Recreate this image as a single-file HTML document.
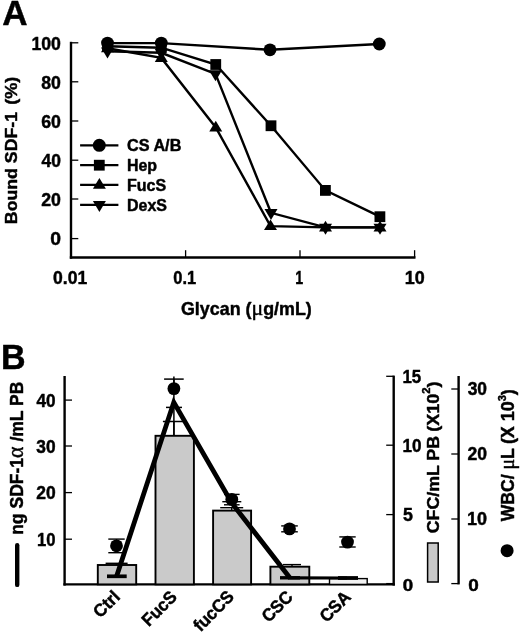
<!DOCTYPE html>
<html><head><meta charset="utf-8"><title>Figure</title>
<style>
html,body{margin:0;padding:0;background:#fff;}
svg{display:block;filter:blur(0.4px);}
text{font-family:"Liberation Sans",sans-serif;font-weight:bold;fill:#000;stroke:#000;stroke-width:0.45px;stroke-linejoin:round;}
</style></head><body>
<svg width="520" height="635" viewBox="0 0 520 635">
<rect width="520" height="635" fill="#fff"/>
<text transform="translate(2.22,25.00) scale(1.021,1)" font-size="34.35" >A</text>
<line x1="71" y1="41.8" x2="71" y2="258.7" stroke="#000" stroke-width="2.4" />
<line x1="69.8" y1="257.5" x2="415.5" y2="257.5" stroke="#000" stroke-width="2.4" />
<line x1="71.5" y1="42.8" x2="78.3" y2="42.8" stroke="#000" stroke-width="1.3" />
<line x1="71.5" y1="81.8" x2="78.3" y2="81.8" stroke="#000" stroke-width="1.3" />
<line x1="71.5" y1="121" x2="78.3" y2="121" stroke="#000" stroke-width="1.3" />
<line x1="71.5" y1="160.2" x2="78.3" y2="160.2" stroke="#000" stroke-width="1.3" />
<line x1="71.5" y1="199" x2="78.3" y2="199" stroke="#000" stroke-width="1.3" />
<line x1="71.5" y1="238.6" x2="78.3" y2="238.6" stroke="#000" stroke-width="1.3" />
<line x1="185.6" y1="250.2" x2="185.6" y2="257.5" stroke="#000" stroke-width="1.3" />
<line x1="300" y1="250.2" x2="300" y2="257.5" stroke="#000" stroke-width="1.3" />
<line x1="414.6" y1="250.2" x2="414.6" y2="257.5" stroke="#000" stroke-width="1.3" />
<text transform="translate(31.44,49.50) scale(0.968,1)" font-size="18.29" >100</text>
<text transform="translate(41.27,88.50) scale(0.968,1)" font-size="18.29" >80</text>
<text transform="translate(41.18,127.70) scale(0.972,1)" font-size="18.29" >60</text>
<text transform="translate(41.54,166.90) scale(0.954,1)" font-size="18.29" >40</text>
<text transform="translate(41.18,205.70) scale(0.972,1)" font-size="18.29" >20</text>
<text transform="translate(50.23,245.30) scale(1.059,1)" font-size="18.29" >0</text>
<text transform="translate(53.10,284.20) scale(0.960,1)" font-size="18.29" >0.01</text>
<text transform="translate(173.24,284.20) scale(0.900,1)" font-size="18.29" >0.1</text>
<text transform="translate(295.34,284.20) scale(0.768,1)" font-size="18.55" >1</text>
<text transform="translate(404.72,284.20) scale(0.980,1)" font-size="18.29" >10</text>
<text transform="translate(17.10,224.15) rotate(-90) scale(1.060,1)" font-size="16.72" >Bound SDF-1</text>
<text transform="translate(17.10,104.80) rotate(-90) scale(1.081,1)" font-size="16.72" >(%)</text>
<text transform="translate(180.98,315.20) scale(1.000,1)" font-size="17.88" >Glycan (<tspan font-family="Liberation Serif,serif" font-weight="normal" font-size="122%">μ</tspan>g/mL)</text>
<polyline fill="none" stroke="#000" stroke-width="2.4" points="107.50,43.10 161.30,43.10 270.00,49.80 379.30,44.00"/>
<polyline fill="none" stroke="#000" stroke-width="2.4" points="107.50,46.20 161.30,47.70 215.75,64.50 271.00,125.75 325.40,190.40 379.90,216.70"/>
<polyline fill="none" stroke="#000" stroke-width="2.4" points="107.50,48.30 161.30,57.90 215.75,127.40 270.50,226.10 325.50,227.40 380.00,227.40"/>
<polyline fill="none" stroke="#000" stroke-width="2.4" points="107.50,51.30 161.30,52.80 215.50,73.90 271.00,212.80 325.50,227.40 380.00,227.40"/>
<circle cx="107.5" cy="43.1" r="6.4"/>
<circle cx="161.3" cy="43.1" r="6.4"/>
<circle cx="270" cy="49.8" r="6.4"/>
<circle cx="379.3" cy="44" r="6.4"/>
<rect x="102.10" y="40.80" width="10.8" height="10.8"/>
<rect x="155.90" y="42.30" width="10.8" height="10.8"/>
<rect x="210.35" y="59.10" width="10.8" height="10.8"/>
<rect x="265.60" y="120.35" width="10.8" height="10.8"/>
<rect x="320.00" y="185.00" width="10.8" height="10.8"/>
<rect x="374.50" y="211.30" width="10.8" height="10.8"/>
<polygon points="107.50,41.60 114.00,52.30 101.00,52.30"/>
<polygon points="161.30,51.20 167.80,61.90 154.80,61.90"/>
<polygon points="215.75,120.70 222.25,131.40 209.25,131.40"/>
<polygon points="270.50,219.40 277.00,230.10 264.00,230.10"/>
<polygon points="325.50,220.70 332.00,231.40 319.00,231.40"/>
<polygon points="380.00,220.70 386.50,231.40 373.50,231.40"/>
<polygon points="107.50,58.60 114.00,47.60 101.00,47.60"/>
<polygon points="161.30,60.10 167.80,49.10 154.80,49.10"/>
<polygon points="215.50,81.20 222.00,70.20 209.00,70.20"/>
<polygon points="271.00,220.10 277.50,209.10 264.50,209.10"/>
<polygon points="325.50,234.70 332.00,223.70 319.00,223.70"/>
<polygon points="380.00,234.70 386.50,223.70 373.50,223.70"/>
<line x1="80.1" y1="145.3" x2="118.4" y2="145.3" stroke="#000" stroke-width="2.3" />
<line x1="80.1" y1="165.2" x2="118.4" y2="165.2" stroke="#000" stroke-width="2.3" />
<line x1="80.1" y1="184.8" x2="118.4" y2="184.8" stroke="#000" stroke-width="2.3" />
<line x1="80.1" y1="204.8" x2="118.4" y2="204.8" stroke="#000" stroke-width="2.3" />
<circle cx="99.3" cy="145.3" r="6.5"/>
<rect x="93.90" y="159.80" width="10.8" height="10.8"/>
<polygon points="99.40,178.10 105.90,188.80 92.90,188.80"/>
<polygon points="99.40,212.10 105.90,201.10 92.90,201.10"/>
<text transform="translate(126.95,150.70) scale(1.015,1)" font-size="15.99" >CS A/B</text>
<text transform="translate(126.96,170.90) scale(1.008,1)" font-size="15.84" >Hep</text>
<text transform="translate(126.96,190.60) scale(1.003,1)" font-size="15.99" >FucS</text>
<text transform="translate(126.96,210.50) scale(1.001,1)" font-size="15.99" >DexS</text>
<text transform="translate(0.98,369.30) scale(0.997,1)" font-size="34.20" >B</text>
<line x1="64.6" y1="376.0" x2="64.6" y2="585.6" stroke="#000" stroke-width="2.4" />
<line x1="63.39999999999999" y1="584.4" x2="394.9" y2="584.4" stroke="#000" stroke-width="2.4" />
<line x1="393.7" y1="375.6" x2="393.7" y2="585.6" stroke="#000" stroke-width="2.4" />
<line x1="458.6" y1="376.0" x2="458.6" y2="584.4" stroke="#000" stroke-width="2.4" />
<line x1="64.6" y1="400.1" x2="72" y2="400.1" stroke="#000" stroke-width="1.3" />
<text transform="translate(36.54,406.80) scale(0.976,1)" font-size="17.57" >40</text>
<line x1="64.6" y1="446" x2="72" y2="446" stroke="#000" stroke-width="1.3" />
<text transform="translate(36.37,452.70) scale(0.986,1)" font-size="17.57" >30</text>
<line x1="64.6" y1="492.6" x2="72" y2="492.6" stroke="#000" stroke-width="1.3" />
<text transform="translate(36.19,499.30) scale(0.995,1)" font-size="17.57" >20</text>
<line x1="64.6" y1="539.2" x2="72" y2="539.2" stroke="#000" stroke-width="1.3" />
<text transform="translate(37.10,545.90) scale(0.947,1)" font-size="17.57" >10</text>
<line x1="386.2" y1="376.3" x2="393.7" y2="376.3" stroke="#000" stroke-width="1.3" />
<text transform="translate(402.49,382.60) scale(0.932,1)" font-size="18.12" >15</text>
<line x1="386.2" y1="445.2" x2="393.7" y2="445.2" stroke="#000" stroke-width="1.3" />
<text transform="translate(402.47,452.40) scale(0.959,1)" font-size="17.86" >10</text>
<line x1="386.2" y1="514.6" x2="393.7" y2="514.6" stroke="#000" stroke-width="1.3" />
<text transform="translate(403.07,521.20) scale(1.007,1)" font-size="17.68" >5</text>
<line x1="386.2" y1="583.6" x2="393.7" y2="583.6" stroke="#000" stroke-width="1.3" />
<text transform="translate(402.85,591.20) scale(1.121,1)" font-size="16.71" >0</text>
<line x1="451.3" y1="389" x2="458.6" y2="389" stroke="#000" stroke-width="1.3" />
<text transform="translate(467.66,395.40) scale(0.975,1)" font-size="17.86" >30</text>
<line x1="451.3" y1="454" x2="458.6" y2="454" stroke="#000" stroke-width="1.3" />
<text transform="translate(467.48,460.40) scale(0.985,1)" font-size="17.86" >20</text>
<line x1="451.3" y1="519" x2="458.6" y2="519" stroke="#000" stroke-width="1.3" />
<text transform="translate(467.02,525.40) scale(1.009,1)" font-size="17.86" >10</text>
<line x1="451.3" y1="583.6" x2="458.6" y2="583.6" stroke="#000" stroke-width="1.3" />
<text transform="translate(468.24,590.80) scale(1.087,1)" font-size="17.43" >0</text>
<rect x="97.8" y="565" width="38.40" height="19.40" fill="#cacaca" stroke="#000" stroke-width="1.9"/>
<rect x="155.5" y="435.8" width="38.40" height="148.60" fill="#cacaca" stroke="#000" stroke-width="1.9"/>
<rect x="213.1" y="510.6" width="38.00" height="73.80" fill="#cacaca" stroke="#000" stroke-width="1.9"/>
<rect x="270.4" y="566.7" width="38.90" height="17.70" fill="#cacaca" stroke="#000" stroke-width="1.9"/>
<rect x="329.5" y="578.6" width="37.70" height="5.80" fill="#f2f2f2" stroke="#000" stroke-width="1.4"/>
<line x1="116.6" y1="563.3" x2="116.6" y2="564.8" stroke="#000" stroke-width="1.4" />
<line x1="105.6" y1="563.3" x2="127.6" y2="563.3" stroke="#000" stroke-width="1.4" />
<line x1="173.9" y1="421.5" x2="173.9" y2="435.8" stroke="#000" stroke-width="1.5" />
<line x1="162.9" y1="421.5" x2="184.9" y2="421.5" stroke="#000" stroke-width="1.5" />
<line x1="231.7" y1="507.7" x2="231.7" y2="510.4" stroke="#000" stroke-width="1.4" />
<line x1="220.2" y1="507.7" x2="243.2" y2="507.7" stroke="#000" stroke-width="1.4" />
<line x1="292" y1="564.6" x2="292" y2="566.7" stroke="#000" stroke-width="1.4" />
<line x1="283" y1="564.6" x2="301" y2="564.6" stroke="#000" stroke-width="1.4" />
<line x1="288" y1="577.9" x2="347" y2="578" stroke="#000" stroke-width="3.1" />
<polyline fill="none" stroke="#000" stroke-width="4.8" stroke-linejoin="miter" points="116.6,576.3 173.8,402.3 231.8,503 290,578"/>
<line x1="107" y1="576.3" x2="126.7" y2="576.3" stroke="#000" stroke-width="3.7" />
<line x1="280" y1="577.8" x2="300" y2="577.8" stroke="#000" stroke-width="3.4" />
<line x1="338" y1="578" x2="358" y2="578" stroke="#000" stroke-width="3.8" />
<line x1="174" y1="400" x2="174" y2="407.4" stroke="#000" stroke-width="1.5" />
<line x1="166" y1="407.4" x2="182" y2="407.4" stroke="#000" stroke-width="1.5" />
<line x1="231.8" y1="501.7" x2="231.8" y2="503" stroke="#000" stroke-width="1.4" />
<line x1="222.3" y1="501.7" x2="241.3" y2="501.7" stroke="#000" stroke-width="1.4" />
<line x1="116.5" y1="539.1" x2="116.5" y2="552.7" stroke="#000" stroke-width="1.4" />
<line x1="108.3" y1="539.1" x2="124.7" y2="539.1" stroke="#000" stroke-width="1.4" />
<line x1="108.3" y1="552.7" x2="124.7" y2="552.7" stroke="#000" stroke-width="1.4" />
<circle cx="116.5" cy="545.8" r="6.4"/>
<line x1="173.9" y1="379.1" x2="173.9" y2="388.6" stroke="#000" stroke-width="1.5" />
<line x1="164.1" y1="379.1" x2="183.70000000000002" y2="379.1" stroke="#000" stroke-width="1.5" />
<circle cx="173.9" cy="388.6" r="6.4"/>
<line x1="231.8" y1="494.4" x2="231.8" y2="504.8" stroke="#000" stroke-width="1.4" />
<line x1="224.0" y1="494.4" x2="239.60000000000002" y2="494.4" stroke="#000" stroke-width="1.4" />
<line x1="224.0" y1="504.8" x2="239.60000000000002" y2="504.8" stroke="#000" stroke-width="1.4" />
<circle cx="231.8" cy="499.4" r="6.4"/>
<line x1="289.5" y1="525.9" x2="289.5" y2="531.8" stroke="#000" stroke-width="1.4" />
<line x1="281.2" y1="525.9" x2="297.8" y2="525.9" stroke="#000" stroke-width="1.4" />
<line x1="281.2" y1="531.8" x2="297.8" y2="531.8" stroke="#000" stroke-width="1.4" />
<circle cx="289.5" cy="528.9" r="6.4"/>
<line x1="347.5" y1="536.9" x2="347.5" y2="547" stroke="#000" stroke-width="1.4" />
<line x1="339.3" y1="536.9" x2="355.7" y2="536.9" stroke="#000" stroke-width="1.4" />
<line x1="339.3" y1="547" x2="355.7" y2="547" stroke="#000" stroke-width="1.4" />
<circle cx="347.5" cy="542.1" r="6.4"/>
<line x1="173.9" y1="376.4" x2="173.9" y2="436" stroke="#000" stroke-width="1.5" />
<line x1="17.2" y1="545.2" x2="17.2" y2="584.9" stroke="#000" stroke-width="4.4" stroke-linecap="round"/>
<rect x="427.6" y="543" width="10.6" height="39" fill="#c9c9c9" stroke="#000" stroke-width="1.5"/>
<circle cx="507.1" cy="550.7" r="6.5"/>
<text transform="translate(23.20,534.84) rotate(-90) scale(0.981,1)" font-size="17.88" >ng SDF-1<tspan font-family="Liberation Serif,serif" font-weight="normal" font-size="124%">α</tspan> /mL PB</text>
<text transform="translate(438.60,533.21) rotate(-90) scale(1.043,1)" font-size="17.01" >CFC/mL PB</text>
<text transform="translate(438.60,431.70) rotate(-90) scale(1.059,1)" font-size="17.01" >(X10<tspan font-size="62%" dy="-8.6">2</tspan><tspan dy="8.6">)</tspan></text>
<text transform="translate(514.10,521.20) rotate(-90) scale(0.981,1)" font-size="17.88" >WBC/ <tspan font-family="Liberation Serif,serif" font-weight="normal" font-size="112%">μ</tspan>L</text>
<text transform="translate(514.10,444.10) rotate(-90) scale(1.002,1)" font-size="17.88" >(X 10<tspan font-size="62%" dy="-8.6">3</tspan><tspan dy="8.6">)</tspan></text>
<text transform="translate(121,598) rotate(-45) scale(1.0,1.04)" font-size="17" text-anchor="end">Ctrl</text>
<text transform="translate(178,598) rotate(-45) scale(1.0,1.04)" font-size="17" text-anchor="end">FucS</text>
<text transform="translate(235.1,597.8) rotate(-45) scale(1.0,1.04)" font-size="17" text-anchor="end">fucCS</text>
<text transform="translate(294,598) rotate(-45) scale(1.0,1.04)" font-size="17" text-anchor="end">CSC</text>
<text transform="translate(352,598) rotate(-45) scale(1.0,1.04)" font-size="17" text-anchor="end">CSA</text>
</svg>
</body></html>
